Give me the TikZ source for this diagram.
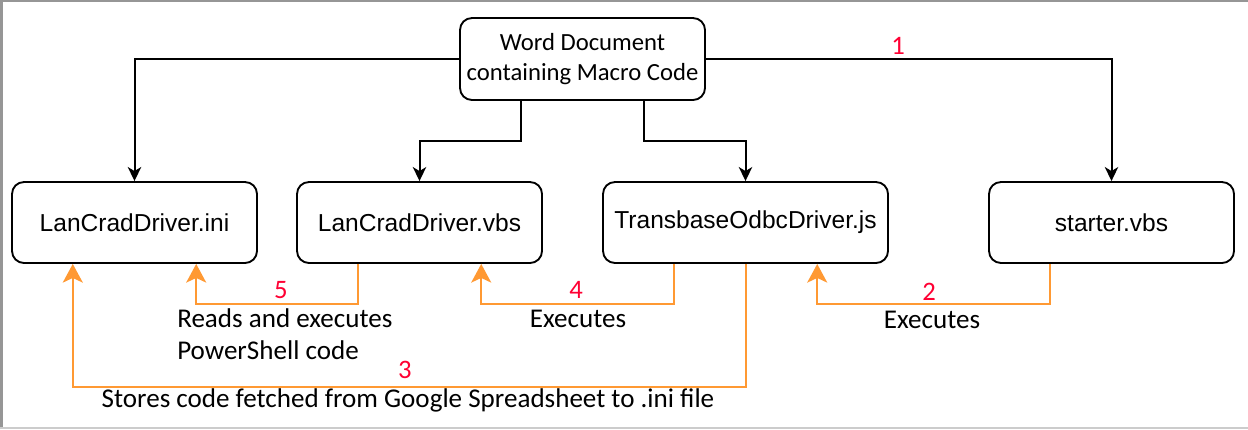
\documentclass[tikz,border=0pt]{standalone}
\usepackage{fontspec}
\setmainfont{Carlito}
\newfontfamily\arialfont{Liberation Sans}
\usetikzlibrary{arrows.meta,calc}
\definecolor{orangeline}{RGB}{255,153,51}
\definecolor{numred}{RGB}{255,0,51}
\definecolor{framegray}{RGB}{150,150,150}
\tikzset{
  box/.style={draw=black, line width=1.4pt, rounded corners=9pt, minimum width=183.75pt, minimum height=60.75pt, inner sep=0pt, align=center, font=\arialfont\fontsize{18.4}{21}\selectfont},
  topbox/.style={draw=black, line width=1.4pt, rounded corners=9pt, minimum width=183.75pt, minimum height=61.5pt, inner sep=0pt, align=center, font=\fontsize{18.5}{22.5}\selectfont},
  blackarrow/.style={draw=black, line width=1.5pt, -{Stealth[length=10.5pt, width=10pt, inset=3pt]}},
  orangearrow/.style={draw=orangeline, line width=1.5pt, -{Stealth[length=14pt, width=15pt, inset=3.5pt]}},
  num/.style={text=numred, font=\fontsize{20}{24}\selectfont, inner sep=0pt},
  lbl/.style={text=black, font=\fontsize{20.3}{24}\selectfont, inner sep=0pt, align=left}
}
\begin{document}
\begin{tikzpicture}[x=0.75pt,y=-0.75pt]
\useasboundingbox (0,0) rectangle (1248,429);
% frame
\draw[framegray, line width=1.5pt] (1.5,429) -- (1.5,1) -- (1248,1);
\draw[black!20, line width=1.2pt] (0,428) -- (1248,428);

\node[topbox] (top) at (582.5,59) {Word Document\\containing Macro Code};
\node[box] (ini) at (134.5,222.5) {LanCradDriver.ini};
\node[box] (vbs) at (419.5,222.5) {LanCradDriver.vbs};
\node[box, minimum width=213.75pt] (js) at (745.5,222.5) {TransbaseOdbcDriver.js};
\node[box] (st) at (1111.5,222.5) {starter.vbs};

% black connectors
\draw[blackarrow] (top.west) -| (ini.north);
\draw[blackarrow] (top.east) -| (st.north);
\coordinate (tl) at ($(top.south west)!0.25!(top.south east)$);
\coordinate (tr) at ($(top.south west)!0.75!(top.south east)$);
\draw[blackarrow] (tl) -- ($(tl)+(0,40)$) -| (vbs.north);
\draw[blackarrow] (tr) -- ($(tr)+(0,40)$) -| (js.north);

% orange connectors
\coordinate (vbsA) at ($(vbs.south west)!0.25!(vbs.south east)$);
\coordinate (vbsB) at ($(vbs.south west)!0.75!(vbs.south east)$);
\coordinate (iniA) at ($(ini.south west)!0.25!(ini.south east)$);
\coordinate (iniB) at ($(ini.south west)!0.75!(ini.south east)$);
\coordinate (jsA) at ($(js.south west)!0.25!(js.south east)$);
\coordinate (jsB) at ($(js.south west)!0.75!(js.south east)$);
\coordinate (stA) at ($(st.south west)!0.25!(st.south east)$);

\draw[orangearrow] (vbsA) -- ($(vbsA)+(0,40)$) -| (iniB);
\draw[orangearrow] (jsA) -- ($(jsA)+(0,40)$) -| (vbsB);
\draw[orangearrow] (stA) -- ($(stA)+(0,40)$) -| (jsB);
\draw[orangearrow] (js.south) -- ($(js.south)+(0,123)$) -| (iniA);

% numbers
\node[num] (n1) at (898,46) {1};
\node[num] (n2) at (929,292) {2};
\node[num] (n3) at (405,370) {3};
\node[num] (n4) at (576,290) {4};
\node[num] (n5) at (281,290) {5};

% labels
\node[lbl, anchor=west] (l5) at (177,334) {Reads and executes\\PowerShell code};
\node[lbl] (l4) at (578,319) {Executes};
\node[lbl] (l2) at (932,320) {Executes};
\node[lbl] (l3) at (408,400) {Stores code fetched from Google Spreadsheet to .ini file};
\end{tikzpicture}
\end{document}
